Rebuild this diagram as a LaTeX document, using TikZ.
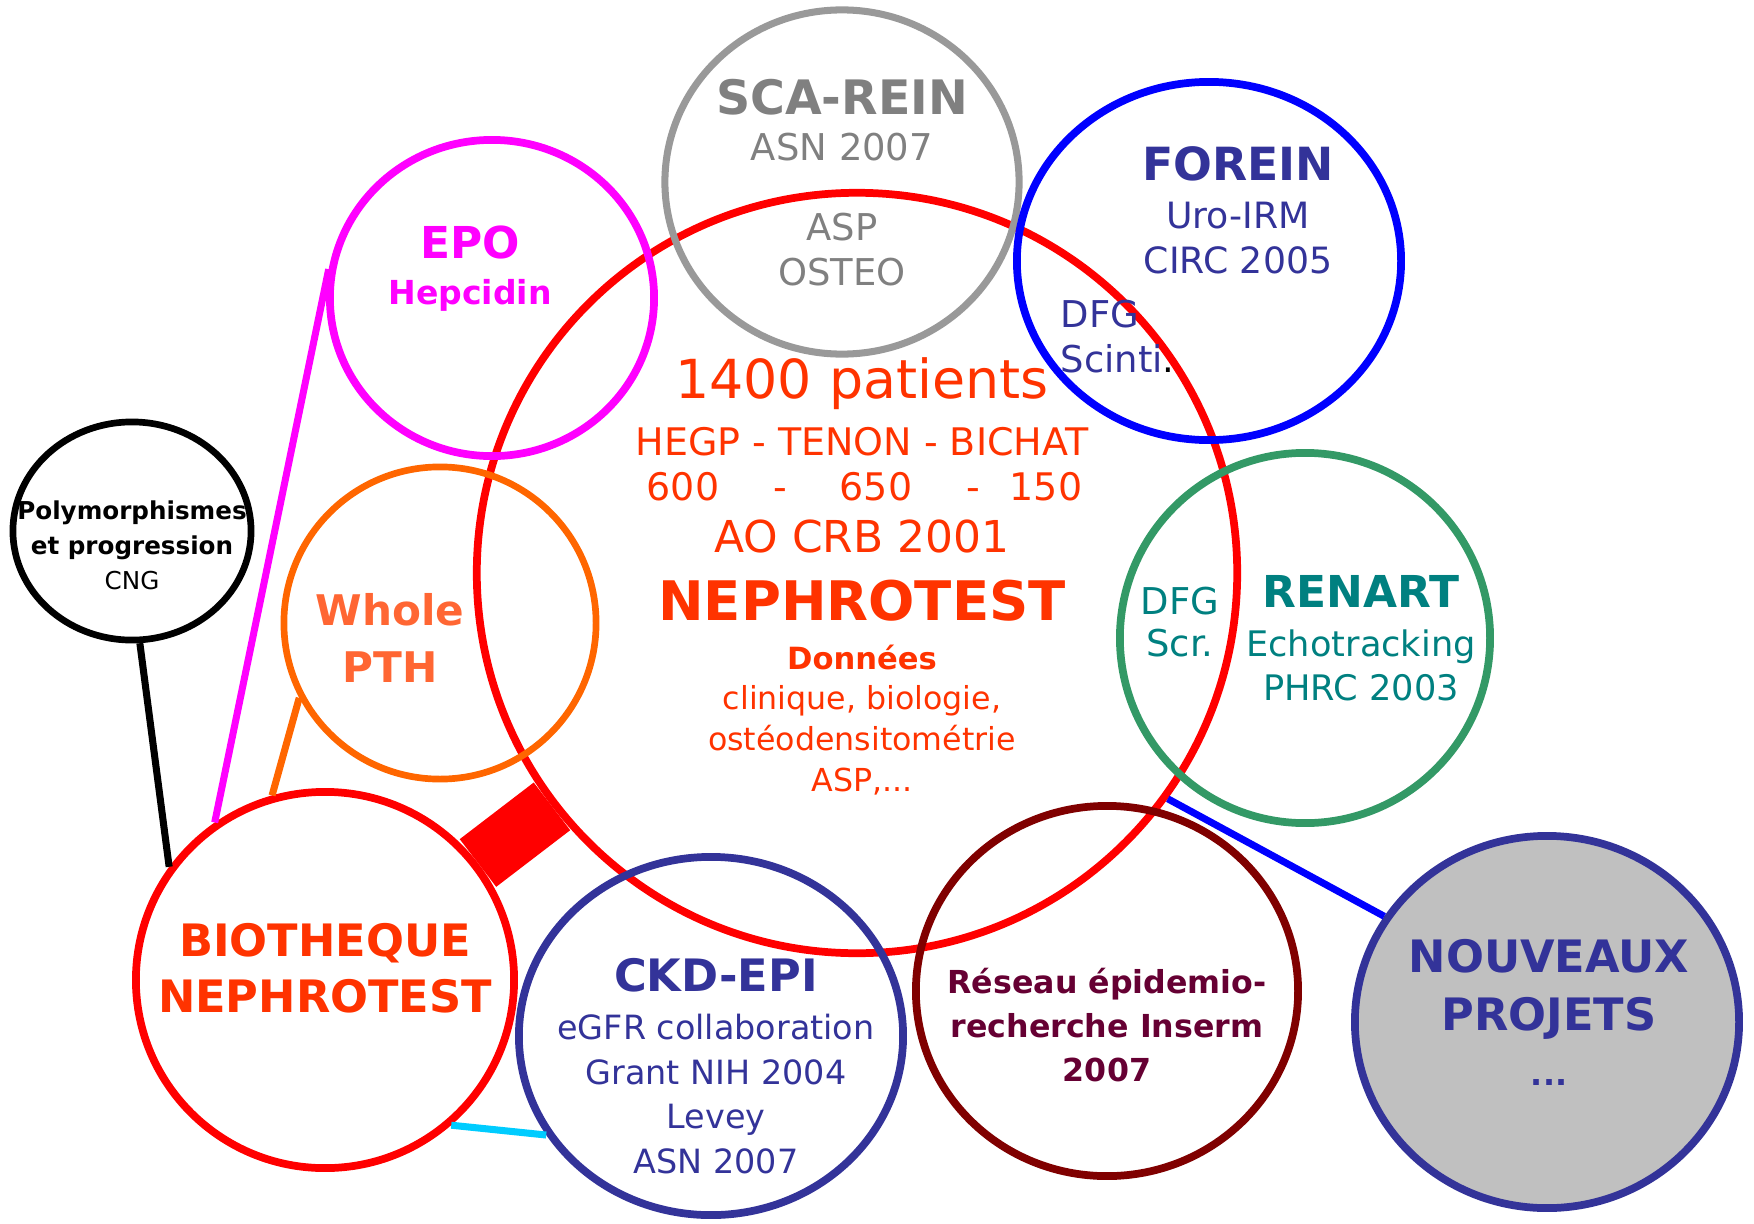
\documentclass[tikz,border=0pt]{standalone}
\usepackage{fontspec}
\setmainfont{DejaVu Sans}
\usetikzlibrary{shapes.geometric}

\definecolor{rouge}{HTML}{FF0000}
\definecolor{rougetxt}{HTML}{FF3300}
\definecolor{grisc}{HTML}{999999}
\definecolor{gristxt}{HTML}{808080}
\definecolor{bleu}{HTML}{0000FF}
\definecolor{marine}{HTML}{333399}
\definecolor{rose}{HTML}{FF00FF}
\definecolor{orangec}{HTML}{FF6600}
\definecolor{orangetxt}{HTML}{FF6633}
\definecolor{vert}{HTML}{339966}
\definecolor{sarcelle}{HTML}{008080}
\definecolor{bordeaux}{HTML}{800000}
\definecolor{bordeauxtxt}{HTML}{660033}
\definecolor{cyanl}{HTML}{00CCFF}
\definecolor{grisf}{HTML}{C0C0C0}

\newcommand{\fsz}[2]{\fontsize{#1}{#2}\selectfont}

\tikzset{
  ring/.style={ellipse, draw, line width=2.2pt, inner sep=0pt},
  lbl/.style={align=center, inner sep=0pt},
  link/.style={line width=2pt}
}

\begin{document}
\begin{tikzpicture}[x=0.01cm, y=-0.01cm]

\useasboundingbox (0,0) rectangle (1754,1224);

%Draw circles
\node[ring, draw=rouge, minimum width=7.6cm, minimum height=7.6cm] (main) at (857,573) {};
\node[ring, draw=grisc, line width=2pt, minimum width=3.54cm, minimum height=3.44cm] (sca) at (842,182) {};
\node[ring, draw=bleu, minimum width=3.84cm, minimum height=3.58cm] (forein) at (1209,261) {};
\node[ring, draw=rose, minimum width=3.24cm, minimum height=3.16cm] (epo) at (492,298) {};
\node[ring, draw=orangec, line width=1.9pt, minimum width=3.12cm, minimum height=3.12cm] (pth) at (440,623) {};
\node[ring, draw=black, line width=1.9pt, minimum width=2.38cm, minimum height=2.18cm] (poly) at (132,531) {};
\node[ring, draw=vert, minimum width=3.7cm, minimum height=3.7cm] (renart) at (1305,638) {};
\node[ring, draw=rouge, minimum width=3.78cm, minimum height=3.76cm] (bio) at (325,980) {};
\node[ring, draw=marine, minimum width=3.84cm, minimum height=3.58cm] (ckd) at (711,1036) {};
\node[ring, draw=bordeaux, minimum width=3.82cm, minimum height=3.7cm] (reseau) at (1107,991) {};
\node[ring, draw=marine, fill=grisf, minimum width=3.84cm, minimum height=3.72cm] (nouv) at (1547,1022) {};

%Draw links
\draw[link, rose] (bio.125) -- (epo.170);
\draw[link, orangec] (bio.106) -- (pth.208);
\draw[link, black] (bio.144) -- (poly.274);
\draw[link, cyanl] (bio.-49) -- (ckd.211);
\draw[link, bleu] (main.-36) -- (nouv.147);
\draw[rouge, line width=0.6cm] (bio) -- (main);

%SCA-REIN
\node[lbl, text=gristxt, font=\fsz{13.5}{16}\bfseries] (scaT) at (842,97) {SCA-REIN};
\node[lbl, text=gristxt, font=\fsz{10.5}{12.8}] (scaS) at (842,147) {ASN 2007};
\node[lbl, text=gristxt, font=\fsz{10.5}{12.8}] (aspT) at (842,250) {ASP\\OSTEO};

%FOREIN
\node[lbl, text=marine, font=\fsz{13}{16}\bfseries] (foreinT) at (1238,164) {FOREIN};
\node[lbl, text=marine, font=\fsz{10.3}{12.8}] (foreinS) at (1238,238) {Uro-IRM\\CIRC 2005};
\node[lbl, align=left, anchor=west, text=marine, font=\fsz{10.5}{12.8}] (dfgA) at (1060,337) {DFG\\Scinti\textcolor{black}{.}};

%EPO
\node[lbl, text=rose, font=\fsz{12.5}{15}\bfseries] (epoT) at (470,242) {EPO};
\node[lbl, text=rose, font=\fsz{9.4}{12}\bfseries] (epoS) at (470,295) {Hepcidin};

%NEPHROTEST
\node[lbl, text=rougetxt, font=\fsz{15.3}{18}] (patT) at (862,384) {1400 patients};
\node[lbl, text=rougetxt, font=\fsz{10.8}{13}] (hopT) at (862,442) {HEGP - TENON - BICHAT};
\foreach \x/\v in {683/600, 780/-, 876/650, 973/-, 1046/150}
  \node[lbl, anchor=base, text=rougetxt, font=\fsz{10.8}{13}] (num\x) at (\x,500) {\v};
\node[lbl, text=rougetxt, font=\fsz{12.5}{15}] (aoT) at (862,536) {AO CRB 2001};
\node[lbl, text=rougetxt, font=\fsz{15.5}{18}\bfseries] (nephT) at (862,601) {NEPHROTEST};
\node[lbl, text=rougetxt, font=\fsz{8.7}{11}\bfseries] (donT) at (862,657) {Données};
\node[lbl, text=rougetxt, font=\fsz{9}{11.7}] (donS) at (862,740) {clinique, biologie,\\ostéodensitométrie\\ASP,...};

%Whole PTH
\node[lbl, text=orangetxt, font=\fsz{12}{16.2}\bfseries] (pthT) at (390,638) {Whole\\PTH};

%Polymorphismes
\node[lbl, text=black, font=\fsz{7}{10}] (polyT) at (132,545) {\textbf{Polymorphismes}\\\textbf{et progression}\\CNG};

%RENART
\node[lbl, text=sarcelle, font=\fsz{12.5}{15}\bfseries] (renartT) at (1361,591) {RENART};
\node[lbl, text=sarcelle, font=\fsz{10}{12.5}] (renartS) at (1361,665) {Echotracking\\PHRC 2003};
\node[lbl, text=sarcelle, font=\fsz{10.5}{12}] (dfgB) at (1180,622) {DFG\\Scr.};

%BIOTHEQUE
\node[lbl, text=rougetxt, font=\fsz{12.7}{15.9}\bfseries] (bioT) at (325,968) {BIOTHEQUE\\NEPHROTEST};

%CKD-EPI
\node[lbl, text=marine, font=\fsz{12.7}{15}\bfseries] (ckdT) at (716,975) {CKD-EPI};
\node[lbl, text=marine, font=\fsz{9.5}{12.7}] (ckdS) at (716,1094) {eGFR collaboration\\Grant NIH 2004\\Levey\\ASN 2007};

%Reseau
\node[lbl, text=bordeauxtxt, font=\fsz{9}{12.4}\bfseries] (resT) at (1107,1025) {Réseau épidemio-\\recherche Inserm\\2007};

%Nouveaux projets
\node[lbl, text=marine, font=\fsz{12.7}{16.5}\bfseries] (nouvT) at (1549,989) {NOUVEAUX\\PROJETS};
\node[lbl, text=marine, font=\fsz{9}{11}\bfseries] (nouvS) at (1549,1082) {...};

\end{tikzpicture}
\end{document}
